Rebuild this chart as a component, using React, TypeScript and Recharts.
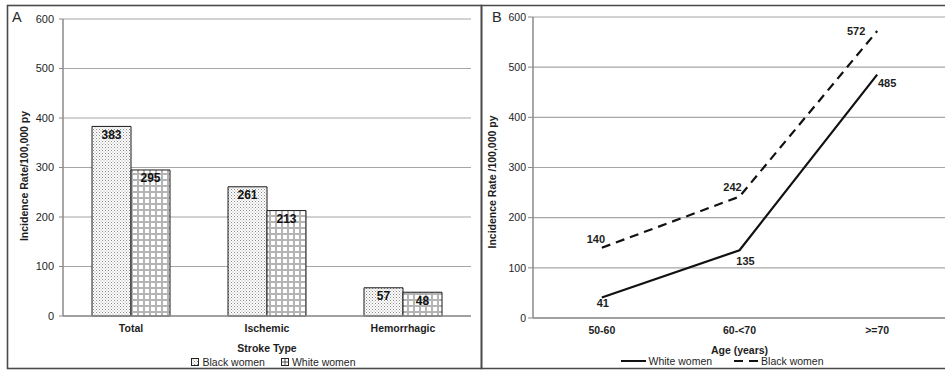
import React from 'react';
import {
  BarChart, Bar, XAxis, YAxis, CartesianGrid, LabelList, Legend,
  LineChart, Line, Label,
} from 'recharts';

// ---------- data ----------
const strokeTypes = ['Total', 'Ischemic', 'Hemorrhagic'];
const blackWomenByType = [383, 261, 57];
const whiteWomenByType = [295, 213, 48];

const ageGroups = ['50-60', '60-<70', '>=70'];
const whiteWomenByAge = [41, 135, 485];
const blackWomenByAge = [140, 242, 572];

const yTicks = [0, 100, 200, 300, 400, 500, 600];

const barData = strokeTypes.map((t, i) => ({
  type: t,
  black: blackWomenByType[i],
  white: whiteWomenByType[i],
}));

const lineData = ageGroups.map((a, i) => ({
  age: a,
  white: whiteWomenByAge[i],
  black: blackWomenByAge[i],
}));

const FONT = '"Liberation Sans", Arial, sans-serif';
const TXT = '#1e1e1e';

// ---------- helpers ----------
const PatternDefs = () => (
  <defs>
    <pattern id="stipple" width="3" height="3" patternUnits="userSpaceOnUse">
      <rect width="3" height="3" fill="#ffffff" />
      <rect width="1" height="1" fill="#8a8a8a" />
      <rect x="1.5" y="1.5" width="1" height="1" fill="#a0a0a0" />
    </pattern>
    <pattern id="gridpat" width="6" height="6" patternUnits="userSpaceOnUse">
      <rect width="6" height="6" fill="#b4b4b4" />
      <rect x="1" y="1" width="4" height="4" fill="#ffffff" />
    </pattern>
  </defs>
);

const BarLegend = () => (
  <div style={{
    display: 'flex', justifyContent: 'center', alignItems: 'center', height: 14,
    fontFamily: FONT, fontSize: 10.5, color: TXT, paddingLeft: 53, lineHeight: '14px',
  }}>
    <svg width="9" height="9" style={{ marginRight: 2 }}>
      <rect x="0.5" y="0.5" width="7" height="7" fill="url(#stipple)" stroke="#222" strokeWidth="1" />
    </svg>
    <span style={{ marginRight: 16 }}>Black women</span>
    <svg width="9" height="9" style={{ marginRight: 2 }}>
      <rect x="0.5" y="0.5" width="7" height="7" fill="#fff" stroke="#222" strokeWidth="1" />
      <line x1="4" y1="0.5" x2="4" y2="7.5" stroke="#555" />
      <line x1="0.5" y1="4" x2="7.5" y2="4" stroke="#555" />
    </svg>
    <span>White women</span>
  </div>
);

const LineLegend = () => (
  <div style={{
    display: 'flex', justifyContent: 'center', alignItems: 'center', height: 14,
    fontFamily: FONT, fontSize: 10.5, color: TXT, paddingLeft: 6, lineHeight: '14px',
  }}>
    <svg width="25" height="6" style={{ marginRight: 2 }}>
      <line x1="0" y1="3" x2="25" y2="3" stroke="#111" strokeWidth="2" />
    </svg>
    <span style={{ marginRight: 22 }}>White women</span>
    <svg width="25" height="6" style={{ marginRight: 2 }}>
      <line x1="0" y1="3" x2="25" y2="3" stroke="#111" strokeWidth="2" strokeDasharray="9 6" />
    </svg>
    <span>Black women</span>
  </div>
);

const makeLineLabel = (offsets: number[][]) => (props: any) => {
  const { x, y, value, index } = props;
  const o = offsets[index] || [0, 0];
  return (
    <text x={x + o[0]} y={y + o[1]} textAnchor="middle" dominantBaseline="central"
      fontFamily={FONT} fontSize={11} fontWeight="bold" fill={TXT}>
      {value}
    </text>
  );
};

const whiteLabel = makeLineLabel([[1, 6], [6, 11], [10, 8.5]]);
const blackLabel = makeLineLabel([[-6, -9], [-7, -9.5], [-21, 0]]);

const yLabel = (text: string, dx: number, dy: number) => (props: any) => {
  const vb = props.viewBox;
  const cx = vb.x + dx;
  const cy = vb.y + vb.height / 2 + dy;
  return (
    <text x={cx} y={cy} transform={`rotate(-90 ${cx} ${cy})`} textAnchor="middle"
      dominantBaseline="central" fontFamily={FONT} fontSize={10.5} fontWeight="bold" fill={TXT}>
      {text}
    </text>
  );
};

const xLabel = (text: string, dy: number) => (props: any) => {
  const vb = props.viewBox;
  return (
    <text x={vb.x + vb.width / 2} y={vb.y + dy} textAnchor="middle" dominantBaseline="central"
      fontFamily={FONT} fontSize={10.5} fontWeight="bold" fill={TXT}>
      {text}
    </text>
  );
};

export default function App() {
  return (
    <div style={{
      position: 'absolute', left: 0, top: 0, width: 945, height: 372,
      overflow: 'hidden', background: '#fff', fontFamily: FONT,
    }}>
      {/* Panel A */}
      <div style={{ position: 'absolute', left: 0, top: 0 }}>
        <BarChart width={478} height={372} data={barData}
          margin={{ top: 19, right: 7, bottom: 3, left: 23 }}
          barCategoryGap={29} barGap={0}>
          <PatternDefs />
          <CartesianGrid vertical={false} stroke="#a6a6a6" strokeWidth={1.2} />
          <XAxis dataKey="type" height={39} tickLine={false} tickSize={0} tickMargin={9}
            axisLine={{ stroke: '#909090', strokeWidth: 1.5 }}
            tick={{ fontFamily: FONT, fontSize: 10.5, fontWeight: 'bold', fill: TXT }}>
            <Label content={xLabel('Stroke Type', 32)} />
          </XAxis>
          <YAxis domain={[0, 600]} ticks={yTicks} width={40} tickSize={4} tickMargin={5}
            axisLine={{ stroke: '#8a8a8a', strokeWidth: 1.5 }} tickLine={{ stroke: '#8a8a8a' }}
            tick={{ fontFamily: FONT, fontSize: 11, fill: TXT }}>
            <Label content={yLabel('Incidence Rate/100,000 py', 1, 8.5)} />
          </YAxis>
          <Legend verticalAlign="bottom" content={() => <BarLegend />} />
          <Bar dataKey="black" name="Black women" fill="url(#stipple)" stroke="#1a1a1a"
            strokeWidth={1} isAnimationActive={false}>
            <LabelList dataKey="black" position="insideTop" offset={4}
              style={{ fontFamily: FONT, fontSize: 12, fontWeight: 'bold', fill: '#111' }} />
          </Bar>
          <Bar dataKey="white" name="White women" fill="url(#gridpat)" stroke="#1a1a1a"
            strokeWidth={1} isAnimationActive={false}>
            <LabelList dataKey="white" position="insideTop" offset={4}
              style={{ fontFamily: FONT, fontSize: 12, fontWeight: 'bold', fill: '#111' }} />
          </Bar>
        </BarChart>
      </div>

      {/* Panel B */}
      <div style={{ position: 'absolute', left: 481, top: 0 }}>
        <LineChart width={470} height={372} data={lineData}
          margin={{ top: 17, right: 5, bottom: 4, left: 12 }}>
          <CartesianGrid vertical={false} stroke="#a6a6a6" strokeWidth={1.2} />
          <XAxis dataKey="age" scale="band" height={36} tickLine={false} tickSize={0} tickMargin={9}
            axisLine={{ stroke: '#909090', strokeWidth: 1.5 }}
            tick={{ fontFamily: FONT, fontSize: 10.5, fontWeight: 'bold', fill: TXT }}>
            <Label content={xLabel('Age (years)', 32)} />
          </XAxis>
          <YAxis domain={[0, 600]} ticks={yTicks} width={40} tickSize={5} tickMargin={2}
            axisLine={{ stroke: '#8a8a8a', strokeWidth: 1.5 }} tickLine={{ stroke: '#8a8a8a' }}
            tick={{ fontFamily: FONT, fontSize: 10.5, fill: TXT }}>
            <Label content={yLabel('Incidence Rate /100,000 py', -1, 14.5)} />
          </YAxis>
          <Legend verticalAlign="bottom" content={() => <LineLegend />} />
          <Line type="linear" dataKey="white" name="White women" stroke="#111" strokeWidth={2.2}
            dot={false} activeDot={false} isAnimationActive={false}>
            <LabelList dataKey="white" content={whiteLabel} />
          </Line>
          <Line type="linear" dataKey="black" name="Black women" stroke="#111" strokeWidth={2.2}
            strokeDasharray="9 6" dot={false} activeDot={false} isAnimationActive={false}>
            <LabelList dataKey="black" content={blackLabel} />
          </Line>
        </LineChart>
      </div>

      {/* Frames and panel letters */}
      <svg width={945} height={372} style={{ position: 'absolute', left: 0, top: 0, pointerEvents: 'none' }}>
        <rect x={7.5} y={5.5} width={474} height={363} fill="none" stroke="#4a4a4a" strokeWidth={1.6} />
        <polyline points="950,5.5 481.5,5.5 481.5,368.5 950,368.5" fill="none" stroke="#4a4a4a" strokeWidth={1.6} />
        <text x={12} y={22} fontFamily={FONT} fontSize={14.5} fill="#2a2a2a">A</text>
        <text x={492} y={22} fontFamily={FONT} fontSize={14.5} fill="#2a2a2a">B</text>
      </svg>
    </div>
  );
}
